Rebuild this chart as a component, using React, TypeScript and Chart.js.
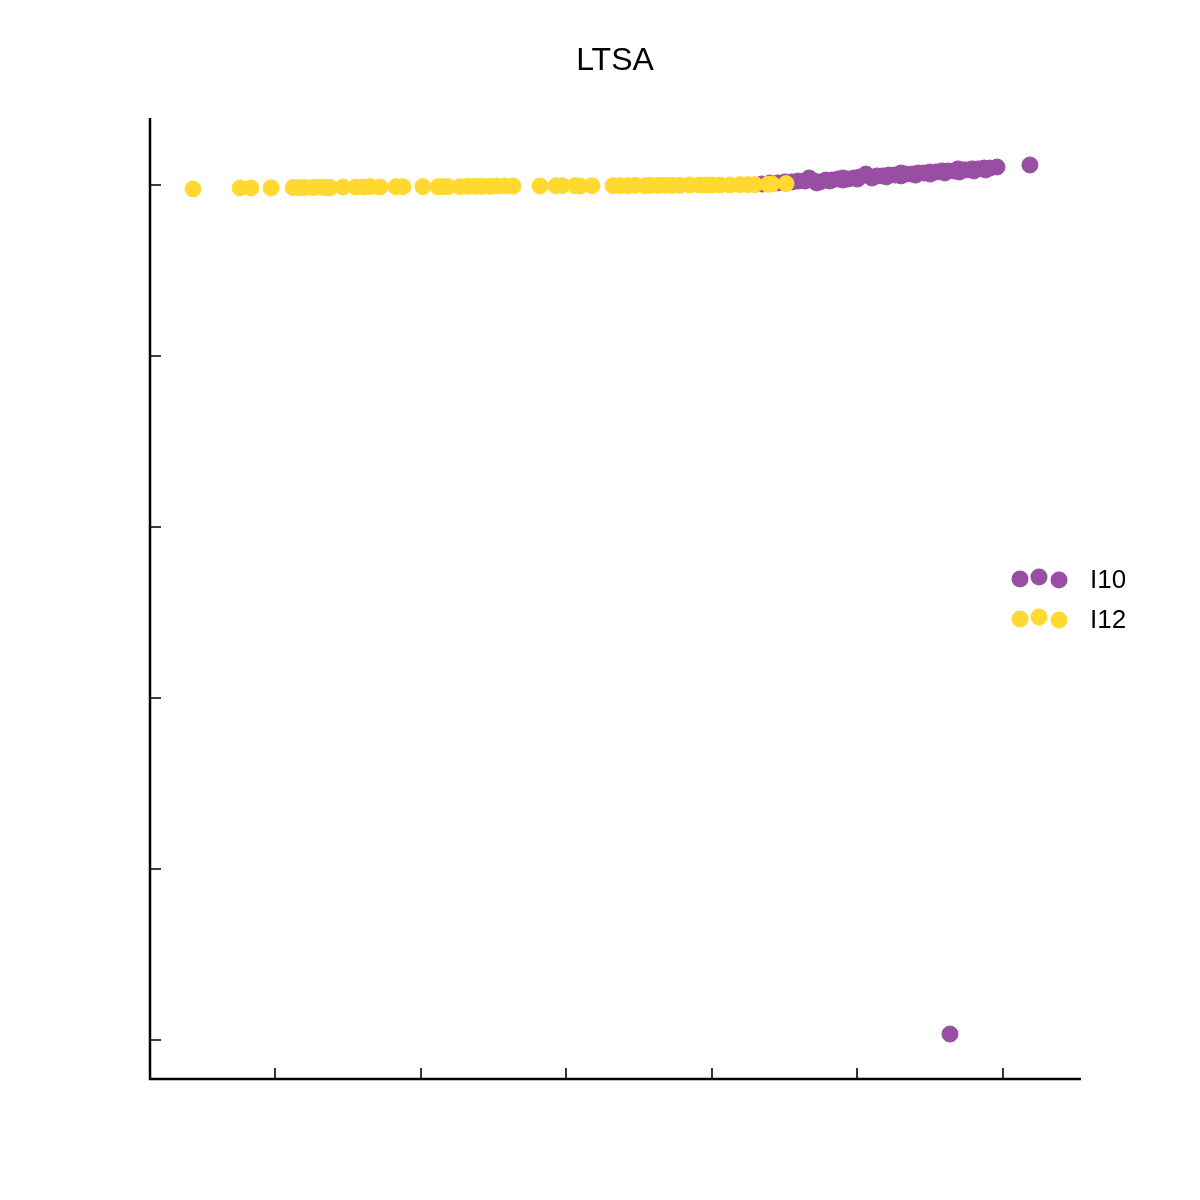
import React, { useEffect, useRef } from "react";
import { Chart, registerables } from "chart.js";

Chart.register(...registerables);

const TITLE = "LTSA";
const SERIES_NAMES = ["I10", "I12"];
const SERIES_COLORS = ["#984EA3", "#FFD92F"];

const X_TICKS = [0, 1, 2, 3, 4, 5];
const Y_TICKS = [0, 1, 2, 3, 4, 5];

const I12_X = [
  -0.563, -0.240, -0.165, -0.027, 0.124, 0.165, 0.206, 0.261, 0.309, 0.343, 0.378, 0.467, 0.556, 0.604,
  0.652, 0.721, 0.831, 0.879, 1.016, 1.120, 1.154, 1.188, 1.271, 1.326, 1.374, 1.422, 1.477, 1.525, 1.580,
  1.635, 1.820, 1.930, 1.971, 2.060, 2.095, 2.177, 2.321, 2.370, 2.424, 2.473, 2.541, 2.576, 2.630, 2.679,
  2.727, 2.782, 2.850, 2.919, 2.960, 3.001, 3.056, 3.125, 3.194, 3.249, 3.297, 3.386, 3.413, 3.510,
];
const I12_Y = [
  4.977, 4.983, 4.983, 4.983, 4.985, 4.985, 4.985, 4.985, 4.988, 4.985, 4.985, 4.988, 4.988, 4.988,
  4.990, 4.988, 4.990, 4.990, 4.990, 4.990, 4.990, 4.990, 4.990, 4.992, 4.992, 4.992, 4.992, 4.994, 4.994,
  4.994, 4.994, 4.996, 4.996, 4.996, 4.994, 4.996, 4.996, 4.996, 4.996, 4.998, 4.996, 4.998, 4.998, 4.998,
  4.998, 4.998, 5.000, 5.000, 5.000, 5.000, 5.000, 5.000, 5.002, 5.002, 5.002, 5.004, 5.006, 5.008,
];

const I10_X = [
  3.345, 3.400, 3.455, 3.503, 3.551, 3.592, 3.640, 3.668, 3.702, 3.743, 3.784, 3.826, 3.867, 3.901, 3.935,
  3.977, 4.018, 4.059, 4.093, 4.135, 4.176, 4.217, 4.258, 4.299, 4.334, 4.375, 4.416, 4.457, 4.499, 4.540,
  4.581, 4.622, 4.663, 4.691, 4.718, 4.746, 4.787, 4.828, 4.870, 4.911, 4.959, 5.185, 4.636,
  3.720, 3.810, 3.900, 4.000, 4.100, 4.200, 4.300, 4.400, 4.500, 4.600, 4.700, 4.800, 4.880,
];
const I10_Y = [
  5.006, 5.012, 5.012, 5.018, 5.018, 5.023, 5.023, 5.041, 5.023, 5.018, 5.029, 5.029, 5.035, 5.041, 5.035,
  5.041, 5.047, 5.064, 5.047, 5.053, 5.053, 5.058, 5.058, 5.070, 5.064, 5.064, 5.070, 5.070, 5.076, 5.076,
  5.082, 5.082, 5.082, 5.094, 5.088, 5.088, 5.094, 5.094, 5.099, 5.099, 5.105, 5.117, 0.035,
  5.012, 5.023, 5.029, 5.035, 5.041, 5.047, 5.053, 5.058, 5.064, 5.070, 5.076, 5.082, 5.088,
];

const X_MIN = -0.8585;
const X_MAX = 5.529;
const Y_MIN = -0.228;
const Y_MAX = 5.38;

const FONT = "'Liberation Sans', Arial, Helvetica, sans-serif";

const decorPlugin = {
  id: "decor",
  afterDraw(chart: any) {
    const ctx = chart.ctx;
    const area = chart.chartArea;
    const xs = chart.scales.x;
    const ys = chart.scales.y;
    ctx.save();
    // axes
    ctx.strokeStyle = "#000";
    ctx.lineWidth = 2.5;
    ctx.beginPath();
    ctx.moveTo(area.left, area.top - 2);
    ctx.lineTo(area.left, area.bottom);
    ctx.lineTo(area.right + 1, area.bottom);
    ctx.stroke();
    ctx.lineWidth = 1.6;
    ctx.beginPath();
    for (const t of X_TICKS) {
      const px = Math.round(xs.getPixelForValue(t));
      ctx.moveTo(px, area.bottom);
      ctx.lineTo(px, area.bottom - 11);
    }
    for (const t of Y_TICKS) {
      const py = Math.round(ys.getPixelForValue(t));
      ctx.moveTo(area.left, py);
      ctx.lineTo(area.left + 11, py);
    }
    ctx.stroke();
    // title
    ctx.fillStyle = "#000";
    ctx.font = `32px ${FONT}`;
    ctx.textAlign = "center";
    ctx.textBaseline = "alphabetic";
    ctx.fillText(TITLE, (area.left + area.right) / 2, 70);
    // legend
    const rows = [578, 618];
    ctx.font = `26px ${FONT}`;
    ctx.textAlign = "left";
    SERIES_NAMES.forEach((name, i) => {
      const cy = rows[i];
      ctx.fillStyle = SERIES_COLORS[i];
      const dots = [
        [1020, cy + 1],
        [1039, cy - 1],
        [1059, cy + 2],
      ];
      for (const [dx, dy] of dots) {
        ctx.beginPath();
        ctx.arc(dx, dy, 8.5, 0, Math.PI * 2);
        ctx.fill();
      }
      ctx.fillStyle = "#000";
      ctx.fillText(name, 1090, cy + 10);
    });
    ctx.restore();
  },
};

export default function App() {
  const ref = useRef<HTMLCanvasElement>(null);
  useEffect(() => {
    document.body.style.margin = "0";
    const toPts = (xs: number[], ys: number[]) => xs.map((x, i) => ({ x, y: ys[i] }));
    const chart = new Chart(ref.current as HTMLCanvasElement, {
      type: "scatter",
      data: {
        datasets: [
          {
            label: SERIES_NAMES[1],
            data: toPts(I12_X, I12_Y),
            backgroundColor: SERIES_COLORS[1],
            borderColor: SERIES_COLORS[1],
            borderWidth: 1,
            pointRadius: 8,
          },
          {
            label: SERIES_NAMES[0],
            data: toPts(I10_X, I10_Y),
            backgroundColor: SERIES_COLORS[0],
            borderColor: SERIES_COLORS[0],
            borderWidth: 1,
            pointRadius: 8,
          },
        ],
      },
      options: {
        animation: false,
        responsive: false,
        layout: { padding: { left: 150, top: 120, right: 120, bottom: 121 } },
        plugins: { legend: { display: false }, title: { display: false }, tooltip: { enabled: false } },
        scales: {
          x: { type: "linear", min: X_MIN, max: X_MAX, display: false },
          y: { type: "linear", min: Y_MIN, max: Y_MAX, display: false },
        },
      },
      plugins: [decorPlugin],
    });
    return () => chart.destroy();
  }, []);
  return (
    <div style={{ position: "absolute", left: 0, top: 0, width: 1200, height: 1200, background: "#fff" }}>
      <canvas ref={ref} width={1200} height={1200} style={{ width: 1200, height: 1200 }} />
    </div>
  );
}
